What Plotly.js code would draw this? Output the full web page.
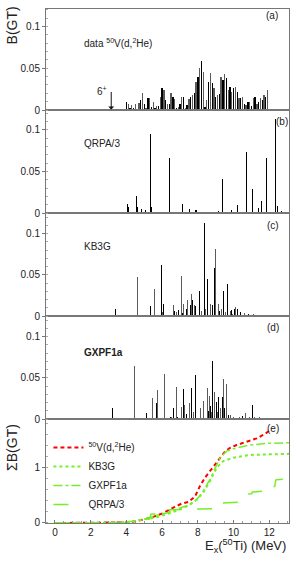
<!DOCTYPE html>
<html>
<head>
<meta charset="utf-8">
<script src="https://cdn.plot.ly/plotly-3.0.1.min.js"></script>
<style>html,body{margin:0;padding:0;background:#fff;}#chart{width:298px;height:563px;}</style>
</head>
<body>
<div id="chart"></div>
<script>
// ---- panel (a): measured 50V(d,2He) B(GT), 0.1 MeV bins ----
const dataE = [4.0,4.1,4.2,4.3,4.4,4.5,4.6,4.7,4.8,4.9,5.0,5.1,5.2,5.3,5.4,5.5,5.6,5.7,5.8,5.9,
  6.0,6.1,6.2,6.3,6.4,6.5,6.6,6.7,6.8,6.9,7.0,7.1,7.2,7.3,7.4,7.5,7.6,7.7,7.8,7.9,
  8.0,8.1,8.2,8.3,8.4,8.5,8.6,8.7,8.8,8.9,9.0,9.1,9.2,9.3,9.4,9.5,9.6,9.7,9.8,9.9,
  10.0,10.1,10.2,10.3,10.4,10.5,10.6,10.7,10.8,10.9,11.0,11.1,11.2,11.3,11.4,11.5,11.6,11.7,11.8,11.9];
const dataB = [0.010,0.007,0.003,0.006,0.002,0.007,0.000,0.008,0.012,0.020,0.007,0.003,0.014,0.014,0.004,0.010,0.002,0.005,0.005,0.016,
  0.026,0.024,0.012,0.007,0.007,0.020,0.015,0.013,0.002,0.004,0.007,0.015,0.015,0.003,0.006,0.013,0.016,0.018,0.020,0.033,
  0.040,0.050,0.059,0.045,0.004,0.012,0.034,0.044,0.032,0.026,0.016,0.018,0.019,0.040,0.036,0.043,0.038,0.024,0.028,0.022,
  0.026,0.028,0.022,0.014,0.014,0.015,0.007,0.006,0.010,0.009,0.005,0.014,0.016,0.007,0.010,0.014,0.012,0.018,0.016,0.024];

// ---- panel (b): QRPA/3 ----
const qrpaE = [4.04,4.10,4.58,4.60,4.82,5.07,5.37,5.40,6.43,7.16,7.52,7.85,7.90,8.97,9.15,9.35,9.38,9.89,10.23,10.58,10.73,10.97,11.05,11.38,11.54,11.82,12.36,12.47,12.68];
const qrpaB = [0.011,0.007,0.021,0.007,0.005,0.004,0.095,0.007,0.066,0.011,0.005,0.004,0.004,0.001,0.002,0.066,0.041,0.004,0.010,0.057,0.074,0.007,0.029,0.006,0.014,0.066,0.113,0.008,0.003];

// ---- panel (c): KB3G ----
const kb3gE = [3.37,4.62,5.33,5.57,5.98,6.02,6.09,6.62,6.67,6.82,6.90,7.08,7.15,7.22,7.35,7.40,7.57,7.65,7.70,7.80,7.87,7.95,8.08,8.20,8.36,8.45,8.54,8.62,8.70,8.73,8.82,8.90,8.94,8.99,9.07,9.16,9.22,9.31,9.44,9.53,9.68,9.81,9.88,9.96,10.05,10.10,10.22,10.30,10.38,10.60,10.84,11.12,11.31,11.59,11.87,12.15];
const kb3gB = [0.008,0.047,0.012,0.033,0.062,0.005,0.015,0.013,0.006,0.005,0.007,0.048,0.004,0.015,0.009,0.020,0.013,0.027,0.019,0.013,0.012,0.013,0.030,0.006,0.113,0.009,0.045,0.010,0.008,0.015,0.013,0.024,0.058,0.081,0.015,0.015,0.006,0.009,0.030,0.005,0.039,0.006,0.007,0.003,0.009,0.011,0.008,0.005,0.005,0.004,0.002,0.003,0.001,0.001,0.001,0.001];

// ---- panel (d): GXPF1a ----
const gxpfE = [3.22,4.43,5.14,5.44,5.66,5.74,5.89,6.15,6.45,6.54,6.66,6.79,6.86,7.07,7.20,7.27,7.38,7.53,7.65,7.76,7.85,7.95,8.06,8.13,8.23,8.32,8.40,8.54,8.58,8.64,8.73,8.78,8.84,8.94,9.03,9.10,9.16,9.25,9.37,9.42,9.50,9.61,9.72,9.81,9.91,10.00,10.19,10.34,10.49,10.66,10.75,10.90,11.05,11.18,11.31,11.46,11.68];
const gxpfB = [0.013,0.064,0.007,0.026,0.020,0.035,0.001,0.055,0.002,0.002,0.013,0.039,0.003,0.015,0.037,0.017,0.006,0.020,0.038,0.009,0.053,0.014,0.022,0.013,0.005,0.022,0.013,0.038,0.010,0.028,0.016,0.008,0.070,0.033,0.021,0.008,0.027,0.013,0.027,0.048,0.013,0.043,0.005,0.005,0.003,0.002,0.011,0.002,0.004,0.007,0.013,0.003,0.017,0.002,0.002,0.002,0.001];

// ---- panel (e): running sums ----
const sumDataE = [0,1,2,3,4,4.48,4.95,5.5,6.07,6.63,7.09,7.47,7.84,8.12,8.4,8.68,8.96,9.24,9.52,9.8,10.17,10.73,11.29,11.76,12.04];
const sumDataB = [0,0,0,0,0.01,0.03,0.06,0.11,0.18,0.28,0.35,0.38,0.48,0.67,0.82,0.94,1.06,1.18,1.29,1.36,1.41,1.47,1.53,1.61,1.68];
const sumKbE = [0,2,4,4.6,5.32,5.88,6.63,7.37,7.93,8.3,8.68,9.05,9.42,9.98,10.92,11.85,13.1];
const sumKbB = [0,0,0,0.05,0.08,0.12,0.20,0.30,0.42,0.55,0.76,1.00,1.12,1.18,1.23,1.24,1.25];
const sumGxE = [0,2,3.2,4.43,4.95,5.69,6.25,7.0,7.56,7.93,8.3,8.68,8.96,9.24,9.61,10.17,10.92,11.85,13.1];
const sumGxB = [0,0,0.01,0.03,0.06,0.14,0.18,0.27,0.33,0.42,0.58,0.79,1.00,1.18,1.30,1.36,1.41,1.44,1.45];
const sumQrE = [0,2,4.0,4.1,4.57,5.3,5.37,6.4,6.43,8.9,9.3,9.35,10.5,10.58,10.73,11.0,11.05,11.8,11.82,12.3,12.36,13.1];
const sumQrB = [0,0,0,0.02,0.06,0.07,0.16,0.17,0.24,0.26,0.27,0.36,0.38,0.44,0.52,0.53,0.56,0.58,0.65,0.66,0.78,0.80];

// ---- styling ----
const FONT = 'Liberation Sans, Arial, sans-serif';
const XR = [-0.5, 13.1];
const GREEN = '#74f02a';
function altColors(n){ const c=[]; for(let i=0;i<n;i++) c.push(i%2===0?'#000000':'#5a5a5a'); return c; }

const traces = [
  {type:'bar', x:dataE, y:dataB, width:0.075, marker:{color:altColors(dataE.length)}, xaxis:'x', yaxis:'y', showlegend:false},
  {type:'bar', x:qrpaE, y:qrpaB, width:0.05, marker:{color:'#000'}, xaxis:'x2', yaxis:'y2', showlegend:false},
  {type:'bar', x:kb3gE, y:kb3gB, width:0.05, marker:{color:altColors(kb3gE.length)}, xaxis:'x3', yaxis:'y3', showlegend:false},
  {type:'bar', x:gxpfE, y:gxpfB, width:0.05, marker:{color:altColors(gxpfE.length).reverse()}, xaxis:'x4', yaxis:'y4', showlegend:false},
  {type:'scatter', mode:'lines', x:sumDataE, y:sumDataB, name:'<sup>50</sup>V(d,<sup>2</sup>He)', line:{color:'#ff0000', width:2, dash:'4px,3px'}, xaxis:'x5', yaxis:'y5'},
  {type:'scatter', mode:'lines', x:sumKbE, y:sumKbB, name:'KB3G', line:{color:GREEN, width:2, dash:'dot'}, xaxis:'x5', yaxis:'y5'},
  {type:'scatter', mode:'lines', x:sumGxE, y:sumGxB, name:'GXPF1a', line:{color:GREEN, width:1.5, dash:'dashdot'}, xaxis:'x5', yaxis:'y5'},
  {type:'scatter', mode:'lines', x:sumQrE, y:sumQrB, name:'QRPA/3', line:{color:GREEN, width:1.5, dash:'longdash'}, xaxis:'x5', yaxis:'y5'}
];

const doms = [[0.8035,1],[0.6031,0.8035],[0.4027,0.6031],[0.2023,0.4027],[0,0.2023]];
const yr = [[0,0.121],[0,0.124],[0,0.125],[0,0.125],[0,1.88]];

const layout = {
  width:298, height:563,
  margin:{l:46, r:9, t:9, b:40, pad:0},
  paper_bgcolor:'#fff', plot_bgcolor:'#fff',
  font:{family:FONT, size:10, color:'#222'},
  bargap:0,
  showlegend:true,
  legend:{x:0.01, y:0.175, xanchor:'left', yanchor:'top', xref:'paper', yref:'paper',
          font:{family:FONT, size:10, color:'#222'}, bgcolor:'rgba(0,0,0,0)', tracegroupgap:0, itemwidth:30},
  annotations:[], shapes:[]
};

for(let i=0;i<5;i++){
  const xs = i===0?'':String(i+1);
  const xa = {
    domain:[0,1], range:XR, anchor:'y'+xs, showline:true, mirror:true, linecolor:'#777', linewidth:1,
    showgrid:false, zeroline:false, fixedrange:true,
    showticklabels: i===4, ticks: i===4?'inside':'', tickvals:[0,2,4,6,8,10,12], ticklen:3, tickcolor:'#777',
    tickfont:{family:FONT, size:10, color:'#222'}
  };
  if(i===4){ xa.minor = {dtick:0.5, ticks:'inside', ticklen:2, tickcolor:'#999'}; xa.ticklabelstandoff = 0; }
  const ya = {
    domain:doms[i], range:yr[i], anchor:'x'+xs, showline:true, mirror:true, linecolor:'#777', linewidth:1,
    showgrid:false, zeroline:false, fixedrange:true, ticks:'outside', ticklen:3, tickcolor:'#777',
    tickfont:{family:FONT, size:10, color:'#222'}
  };
  if(i<4){
    ya.tickvals=[0,0.05,0.1]; ya.ticktext=['0','0.05','0.1'];
    ya.minor={dtick:0.01, ticks:'inside', ticklen:2, tickcolor:'#aaa'};
  } else {
    ya.tickvals=[0,1]; ya.ticktext=['0','1'];
    ya.minor={dtick:0.2, ticks:'inside', ticklen:2, tickcolor:'#aaa'};
  }
  layout['xaxis'+xs]=xa; layout['yaxis'+xs]=ya;
}

function lab(text, xs, x, y, opts){
  return Object.assign({text:text, xref:'x'+xs+' domain', yref:'y'+xs+' domain', x:x, y:y,
    xanchor:'left', yanchor:'middle', showarrow:false, font:{family:FONT, size:10, color:'#222'}}, opts||{});
}
layout.annotations.push(
  lab('data <sup>50</sup>V(d,<sup>2</sup>He)', '', 0.148, 0.663),
  lab('(a)', '', 0.93, 0.94, {xanchor:'center'}),
  lab('QRPA/3', '2', 0.148, 0.67),
  lab('(b)', '2', 0.971, 0.893, {xanchor:'center'}),
  lab('KB3G', '3', 0.148, 0.67),
  lab('(c)', '3', 0.934, 0.883, {xanchor:'center'}),
  lab('<b>GXPF1a</b>', '4', 0.148, 0.65),
  lab('(d)', '4', 0.934, 0.893, {xanchor:'center'}),
  lab('(e)', '5', 0.934, 0.913, {xanchor:'center'}),
  // 6+ arrow
  {text:'&nbsp;', xref:'x', yref:'y', x:3.15, y:0.0005, ax:3.15, ay:0.030, axref:'x', ayref:'y',
   showarrow:true, arrowhead:1, arrowsize:1, arrowwidth:1, arrowcolor:'#111'},
  {text:'6<sup>+</sup>', xref:'x', yref:'y', x:3.0, y:0.0225, xanchor:'right', yanchor:'middle', showarrow:false,
   font:{family:FONT, size:10, color:'#222'}},
  // axis titles
  {text:'B(GT)', xref:'paper', yref:'paper', x:-0.14, y:0.968, textangle:-90, xanchor:'center', yanchor:'middle',
   showarrow:false, font:{family:FONT, size:14, color:'#222'}},
  {text:'ΣB(GT)', xref:'paper', yref:'paper', x:-0.14, y:0.148, textangle:-90, xanchor:'center', yanchor:'middle',
   showarrow:false, font:{family:FONT, size:14, color:'#222'}},
  {text:'E<sub>x</sub>(<sup>50</sup>Ti) (MeV)', xref:'paper', yref:'paper', x:0.996, y:-0.045, xanchor:'right', yanchor:'middle',
   showarrow:false, font:{family:FONT, size:13, color:'#222'}}
);

Plotly.newPlot('chart', traces, layout, {displayModeBar:false, staticPlot:true});
</script>
</body>
</html>
